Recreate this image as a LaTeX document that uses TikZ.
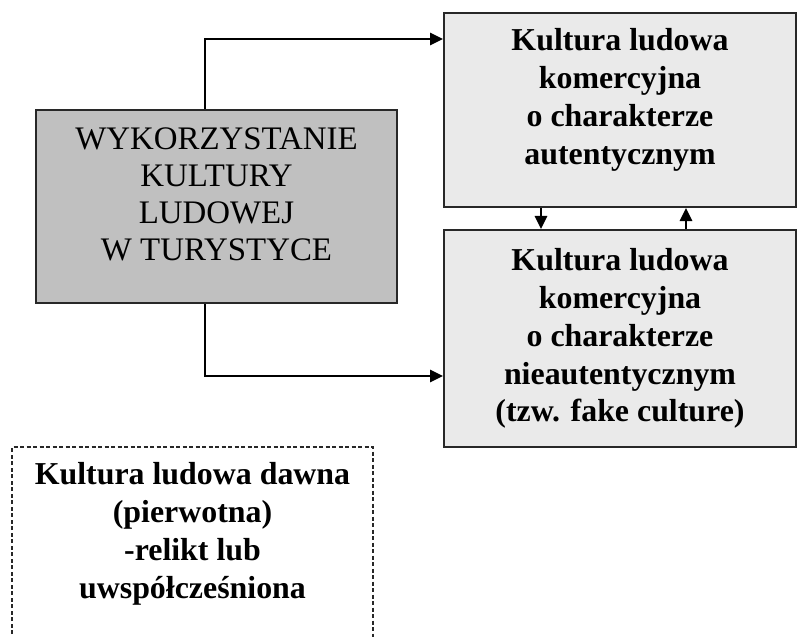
\documentclass[tikz,border=0pt]{standalone}
\usepackage{fontspec}
\setmainfont{Liberation Serif}
\usetikzlibrary{arrows.meta}

\definecolor{darkbox}{RGB}{192,192,192}
\definecolor{lightbox}{RGB}{234,234,234}
\definecolor{edge}{RGB}{40,40,40}

\begin{document}
\begin{tikzpicture}[x=1bp, y=-1bp,
    box/.style={draw=edge, line width=2bp, align=center, inner sep=0pt},
    boldtext/.style={font=\fontsize{32}{38}\selectfont\bfseries},
    arr/.style={line width=2.8bp, -{Triangle[length=13bp,width=12bp]}}]
        % Frame
        \useasboundingbox (0,0) rectangle (797,637);
        \clip (0,0) rectangle (797,637);

        % Draw Boxes
        \node[box, fill=darkbox, font=\fontsize{33}{37}\selectfont,
              minimum width=361bp, minimum height=193bp, text depth=25bp]
              (use) at (216.5,206.5) {WYKORZYSTANIE\\KULTURY\\LUDOWEJ\\W TURYSTYCE};
        \node[box, boldtext, fill=lightbox, minimum width=352bp, minimum height=194bp, text depth=27bp]
              (komA) at (620,110) {Kultura ludowa\\komercyjna\\o charakterze\\autentycznym};
        \node[box, boldtext, fill=lightbox, minimum width=352bp, minimum height=217bp]
              (komB) at (620,338.5) {Kultura ludowa\\komercyjna\\o charakterze\\nieautentycznym\\(tzw. fake culture)};

        % Old Culture (dashed, runs off the page)
        \draw[edge, line width=1.6bp, dash pattern=on 4bp off 2.5bp] (12,660) |- (373,447) -- (373,660);
        \node[boldtext, align=center] (dawna) at (192.5,534) {Kultura ludowa dawna\\(pierwotna)\\-relikt lub\\uwspółcześniona};

        % Connectors
        \coordinate (up) at (205,39);
        \coordinate (down) at (205,376);
        \coordinate (m1) at (541,0);
        \coordinate (m2) at (686,0);
        \draw[arr] (use.north -| up) -- (up) -- (komA.west |- up);
        \draw[arr] (use.south -| down) -- (down) -- (komB.west |- down);
        \draw[arr] (komA.south -| m1) -- (komB.north -| m1);
        \draw[arr] (komB.north -| m2) -- (komA.south -| m2);

    \end{tikzpicture}
\end{document}
